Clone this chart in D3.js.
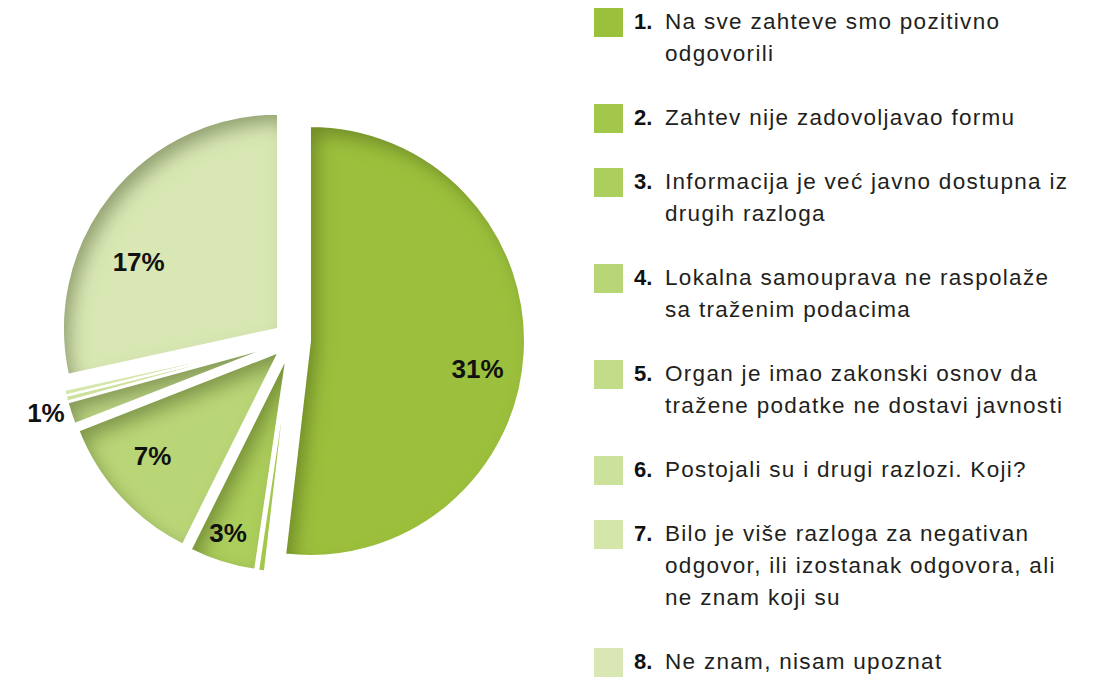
<!DOCTYPE html>
<meta charset="utf-8">
<style>
body { margin: 0; background: #fff; }
svg { display: block; font-family: "Liberation Sans", Arial, sans-serif; }
</style>
<body>
<svg width="1102" height="677"></svg>
<script src="https://cdnjs.cloudflare.com/ajax/libs/d3/7.8.5/d3.min.js"></script>
<script>

// answers, in legend order
var labels = [
	["Na sve zahteve smo pozitivno", "odgovorili"],
	["Zahtev nije zadovoljavao formu"],
	["Informacija je već javno dostupna iz", "drugih razloga"],
	["Lokalna samouprava ne raspolaže", "sa traženim podacima"],
	["Organ je imao zakonski osnov da", "tražene podatke ne dostavi javnosti"],
	["Postojali su i drugi razlozi. Koji?"],
	["Bilo je više razloga za negativan", "odgovor, ili izostanak odgovora, ali", "ne znam koji su"],
	["Ne znam, nisam upoznat"]
];
var values = [31, 0.3, 3, 7, 1, 0.25, 0.25, 17];
var shown  = ["31%", "", "3%", "7%", "1%", "", "", "17%"];
var colors = ["#9bc03c", "#a3c74a", "#acce5c", "#b9d677", "#c3dc8a", "#cce19b", "#d4e6aa", "#d8e7b3"];

var cx = 292, cy = 340, radius = 215, explode = 18;

// where the percent labels sit, like the original's hand-fitted placing:
// angle nudge (deg) and distance as share of radius
var labelTurn = [6, 0, 1, 3, 2, 0, 0, -13];
var labelDist = [0.79, 0, 0.86, 0.76, 1.11, 0, 0, 0.72];

var svg = d3.select("svg");

// soft inner shadow along the upper-left rims
var defs = svg.append("defs");
var f = defs.append("filter").attr("id", "inset")
	.attr("x", "-20%").attr("y", "-20%").attr("width", "140%").attr("height", "140%");
f.append("feComponentTransfer").attr("in", "SourceAlpha").attr("result", "inv")
	.append("feFuncA").attr("type", "table").attr("tableValues", "1 0");
f.append("feGaussianBlur").attr("in", "inv").attr("stdDeviation", 9).attr("result", "blur");
f.append("feOffset").attr("in", "blur").attr("dx", 8).attr("dy", 10).attr("result", "off");
f.append("feFlood").attr("flood-color", "#4b5f12").attr("flood-opacity", 0.65).attr("result", "col");
f.append("feComposite").attr("in", "col").attr("in2", "off").attr("operator", "in").attr("result", "sh");
f.append("feComposite").attr("in", "sh").attr("in2", "SourceAlpha").attr("operator", "in").attr("result", "insh");
var m = f.append("feMerge");
m.append("feMergeNode").attr("in", "SourceGraphic");
m.append("feMergeNode").attr("in", "insh");

var pie = d3.pie().sort(null).value(d => d)(values);
var arc = d3.arc().innerRadius(0).outerRadius(radius);

var mid = d => (d.startAngle + d.endAngle) / 2;
var shift = d => [Math.sin(mid(d)) * explode, -Math.cos(mid(d)) * explode];

var g = svg.append("g").attr("transform", "translate(" + cx + "," + cy + ")");

g.selectAll(".slice")
	.data(pie)
	.enter()
	.append("path")
	.attr("class", "slice")
	.attr("d", arc)
	.attr("fill", (d, i) => colors[i])
	.attr("filter", d => d.value >= 1 ? "url(#inset)" : null)
	.attr("transform", d => "translate(" + shift(d) + ")");

// white borders drawn on top so the shadow does not grey them
g.selectAll(".edge")
	.data(pie)
	.enter()
	.append("path")
	.attr("class", "edge")
	.attr("d", arc)
	.attr("fill", "none")
	.attr("stroke", "#fff")
	.attr("stroke-width", 2)
	.attr("stroke-linejoin", "round")
	.attr("transform", d => "translate(" + shift(d) + ")");

var lblAngle = d => mid(d) + labelTurn[d.index] * Math.PI / 180;

g.selectAll(".pct")
	.data(pie.filter((d, i) => shown[i]))
	.enter()
	.append("text")
	.attr("class", "pct")
	.attr("x", d => shift(d)[0] + Math.sin(lblAngle(d)) * radius * labelDist[d.index])
	.attr("y", d => shift(d)[1] - Math.cos(lblAngle(d)) * radius * labelDist[d.index])
	.attr("dy", "0.36em")
	.attr("text-anchor", "middle")
	.style("font-weight", "bold")
	.style("font-size", "26px")
	.style("fill", "#111")
	.text(d => shown[d.index]);

// legend
var lineH = 32, gap = 64, y = 29;
var leg = svg.append("g").attr("class", "legend");
labels.forEach(function(lines, i) {
	var item = leg.append("g").attr("transform", "translate(0," + y + ")");
	item.append("rect")
		.attr("x", 594).attr("y", -21)
		.attr("width", 29).attr("height", 29)
		.attr("fill", colors[i]);
	item.append("text")
		.attr("x", 634)
		.style("font-weight", "bold")
		.style("font-size", "22px")
		.style("fill", "#111")
		.text((i + 1) + ".");
	item.selectAll(".line")
		.data(lines)
		.enter()
		.append("text")
		.attr("class", "line")
		.attr("x", 665)
		.attr("y", (d, k) => k * lineH)
		.style("font-size", "22.5px")
		.style("letter-spacing", "1.3px")
		.style("fill", "#231f20")
		.text(d => d);
	y += (lines.length - 1) * lineH + gap;
});
</script>
